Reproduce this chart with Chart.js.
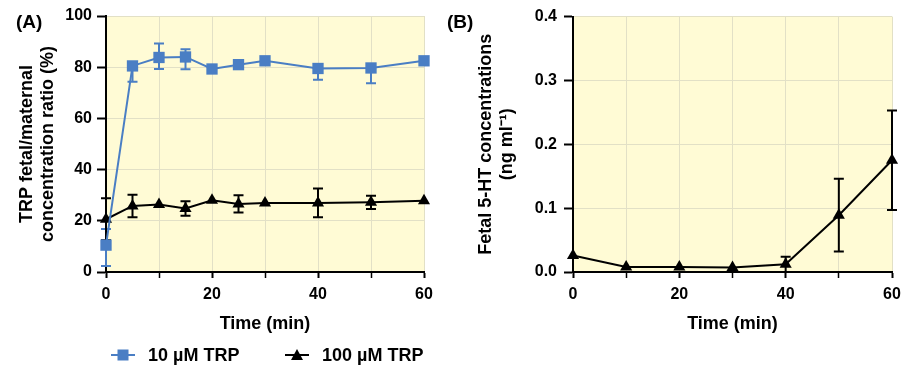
<!DOCTYPE html>
<html>
<head>
<meta charset="utf-8">
<script src="https://cdn.jsdelivr.net/npm/chart.js@4"></script>
<style>
  body { margin:0; width:905px; height:373px; overflow:hidden; background:#fff; position:relative;
         font-family:"Liberation Sans", Arial, sans-serif; }
  .wrap { position:absolute; top:0; height:373px; }
  #wrapA { left:0; width:450px; }
  #wrapB { left:450px; width:455px; }
  .tag { position:absolute; top:10px; font-weight:bold; font-size:19px; line-height:24px; }
  #legend { position:absolute; top:343px; left:0; width:450px; height:24px; font-weight:bold; font-size:18px; }
  #legend .item { position:absolute; top:0; line-height:24px; white-space:nowrap; }
  #legend svg { position:absolute; top:0; }
</style>
</head>
<body>
<div class="wrap" id="wrapA"><canvas id="chartA" width="450" height="373"></canvas></div>
<div class="wrap" id="wrapB"><canvas id="chartB" width="455" height="373"></canvas></div>
<div class="tag" style="left:16px">(A)</div>
<div class="tag" style="left:447px">(B)</div>
<div id="legend">
  <svg width="24" height="24" style="left:111px"><line x1="0" y1="12" x2="24" y2="12" stroke="#4a7ec4" stroke-width="2"/><rect x="6.5" y="6.5" width="11" height="11" fill="#4a7ec4"/></svg>
  <span class="item" style="left:148px">10 µM TRP</span>
  <svg width="24" height="24" style="left:285px"><line x1="0" y1="12" x2="24" y2="12" stroke="#000" stroke-width="2"/><polygon points="12,6 18,17 6,17" fill="#000"/></svg>
  <span class="item" style="left:322px">100 µM TRP</span>
</div>
<script>
// panel A: TRP fetal/maternal ratio (%)
const timesA = [0, 5, 10, 15, 20, 25, 30, 40, 50, 60];
const trp10 = [10.5, 80.5, 83.8, 84, 79.3, 81, 82.5, 79.5, 79.7, 82.5];
const trp10ErrHi = [6.3, 0, 5.5, 3, 0, 0, 0, 0, 0, 0];
const trp10ErrLo = [8.2, 6.2, 4.5, 4.8, 0, 0, 0, 4.4, 6, 0];
const trp100 = [20.6, 25.8, 26.4, 24.8, 28, 26.6, 27, 27, 27.2, 27.8];
const trp100Err = [8.2, 4.4, 0, 2.8, 0, 3.4, 0, 5.6, 2.6, 0];

// panel B: fetal 5-HT (ng/ml)
const timesB = [0, 10, 20, 30, 40, 50, 60];
const ht = [0.026, 0.008, 0.008, 0.007, 0.012, 0.089, 0.175];
const htErr = [0, 0, 0, 0, 0.012, 0.057, 0.078];

const xTicks = [0, 10, 20, 30, 40, 50, 60];
const xTickLabels = [0, 20, 40, 60];

const BLUE = '#4a7ec4';
const FONT = '"Liberation Sans", Arial, sans-serif';
const tickFont = { family: FONT, size: 16, weight: 'bold' };
const titleFont = { family: FONT, size: 18, weight: 'bold', lineHeight: 1.2 };

const pts = (xs, ys) => xs.map((x, i) => ({ x, y: ys[i] }));

const plotBg = {
  id: 'plotBg',
  beforeDraw(chart) {
    const { ctx, chartArea: a } = chart;
    ctx.save();
    ctx.fillStyle = '#fffbd5';
    ctx.fillRect(a.left, a.top, a.width, a.height);
    ctx.restore();
  }
};

const errorBars = {
  id: 'errorBars',
  beforeDatasetsDraw(chart) {
    const { ctx, scales: { x, y } } = chart;
    chart.data.datasets.forEach(ds => {
      if (!ds.errHi) return;
      ctx.save();
      ctx.strokeStyle = ds.borderColor;
      ctx.lineWidth = 2;
      ds.data.forEach((p, i) => {
        const hi = ds.errHi[i], lo = ds.errLo[i];
        if (!hi && !lo) return;
        const px = x.getPixelForValue(p.x);
        const y0 = y.getPixelForValue(p.y - lo), y1 = y.getPixelForValue(p.y + hi);
        ctx.beginPath();
        ctx.moveTo(px, y0); ctx.lineTo(px, y1);
        if (hi) { ctx.moveTo(px - 5, y1); ctx.lineTo(px + 5, y1); }
        if (lo) { ctx.moveTo(px - 5, y0); ctx.lineTo(px + 5, y0); }
        ctx.stroke();
      });
      ctx.restore();
    });
  }
};

function xAxis() {
  return {
    type: 'linear', min: 0, max: 60,
    afterBuildTicks: s => { s.ticks = xTicks.map(v => ({ value: v })); },
    ticks: { autoSkip: false, maxRotation: 0, color: '#000', font: tickFont, padding: 7,
             callback: v => xTickLabels.includes(v) ? String(v) : '' },
    grid: { color: '#e2e0c6', lineWidth: 1, tickColor: '#000', tickLength: 6,
            tickWidth: c => (c.tick && xTickLabels.includes(c.tick.value)) ? 2 : 1.5 },
    border: { color: '#000', width: 2 },
    title: { display: true, text: 'Time (min)', color: '#000', font: titleFont, padding: { top: 0, bottom: 38 } },
    afterFit: s => { s.height = 101; s.paddingLeft = 0; s.paddingRight = 0; }
  };
}

function yAxis(opts) {
  return {
    type: 'linear', min: opts.min, max: opts.max,
    afterBuildTicks: s => { s.ticks = opts.ticks.map(v => ({ value: v })); },
    ticks: { color: '#000', font: tickFont, padding: opts.pad, callback: opts.fmt },
    grid: { color: '#e2e0c6', lineWidth: 1, tickColor: '#000', tickLength: 9, tickWidth: 2 },
    border: { color: '#000', width: 2 },
    title: { display: true, text: opts.title, color: '#000', font: titleFont, padding: { top: opts.titlePad, bottom: 0 } },
    afterFit: s => { s.width = opts.width; }
  };
}

const common = {
  responsive: false,
  animation: false,
  events: [],
  plugins: { legend: { display: false }, tooltip: { enabled: false } }
};

new Chart(document.getElementById('chartA'), {
  type: 'line',
  data: {
    datasets: [
      { label: '10 µM TRP', data: pts(timesA, trp10), errHi: trp10ErrHi, errLo: trp10ErrLo,
        borderColor: BLUE, backgroundColor: BLUE, borderWidth: 2, pointStyle: 'rect',
        pointRadius: 8, pointBorderWidth: 0, tension: 0, clip: false },
      { label: '100 µM TRP', data: pts(timesA, trp100), errHi: trp100Err, errLo: trp100Err,
        borderColor: '#000', backgroundColor: '#000', borderWidth: 2, pointStyle: 'triangle',
        pointRadius: 7, pointBorderWidth: 0, tension: 0, clip: false }
    ]
  },
  options: {
    ...common,
    layout: { padding: { top: 16, right: 26, left: 0, bottom: 0 } },
    scales: {
      x: xAxis(),
      y: yAxis({ min: 0, max: 100, ticks: [0, 20, 40, 60, 80, 100], fmt: v => String(v), pad: 5,
                 title: ['TRP fetal/maternal', 'concentration ratio (%)'], titlePad: 16, width: 106 })
    }
  },
  plugins: [plotBg, errorBars]
});

new Chart(document.getElementById('chartB'), {
  type: 'line',
  data: {
    datasets: [
      { label: '5-HT', data: pts(timesB, ht), errHi: htErr, errLo: htErr,
        borderColor: '#000', backgroundColor: '#000', borderWidth: 2, pointStyle: 'triangle',
        pointRadius: 7, pointBorderWidth: 0, tension: 0, clip: false }
    ]
  },
  options: {
    ...common,
    layout: { padding: { top: 16, right: 13, left: 0, bottom: 0 } },
    scales: {
      x: xAxis(),
      y: yAxis({ min: 0, max: 0.4, ticks: [0, 0.1, 0.2, 0.3, 0.4], fmt: v => v.toFixed(1), pad: 7,
                 title: ['Fetal 5-HT concentrations', '(ng ml\u207B\u00B9)'], titlePad: 25, width: 123 })
    }
  },
  plugins: [plotBg, errorBars]
});
</script>
</body>
</html>
